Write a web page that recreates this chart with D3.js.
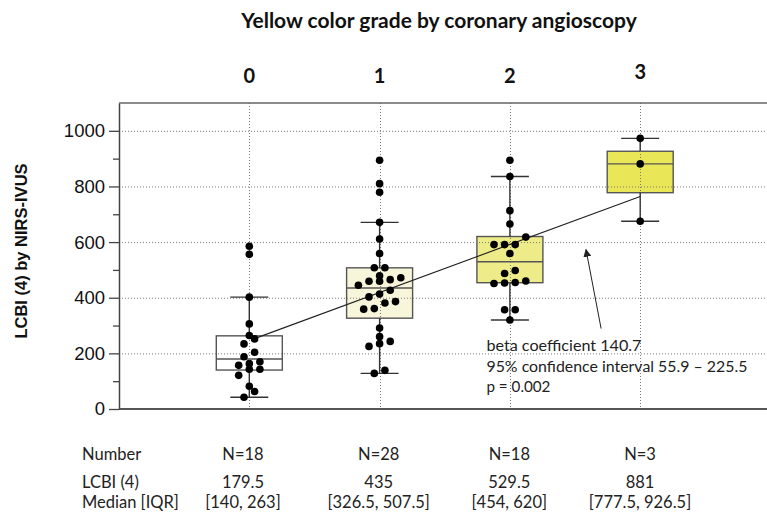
<!DOCTYPE html>
<html>
<head>
<meta charset="utf-8">
<script src="https://cdn.jsdelivr.net/npm/d3@7"></script>
<style>
  html, body { margin: 0; padding: 0; background: #fff; }
  svg { display: block; }
</style>
</head>
<body>
<svg id="chart" width="767" height="515"></svg>
<script>
// ---------------- DATA ----------------
const chartTitle = "Yellow color grade by coronary angioscopy";
const yAxisTitle = "LCBI (4) by NIRS-IVUS";
const categories = ["0", "1", "2", "3"];
const catIndex = [0, 1, 2, 3];
const yTicks = [0, 200, 400, 600, 800, 1000];
const yMinorTicks = [100, 300, 500, 700, 900];

const medians = [179.5, 435, 529.5, 881];
const q1 = [140, 326.5, 454, 777.5];
const q3 = [263, 507.5, 620, 926.5];
const whiskerLow = [42, 128, 320, 675];
const whiskerHigh = [402, 671, 836, 973];

const points0 = [585, 556, 402, 306, 264, 252, 234, 204, 188, 170, 163, 157, 143, 143, 121, 82, 63, 42];
const points1 = [894, 810, 779, 671, 611, 559, 508, 508, 479, 472, 465, 459, 459, 445, 427, 413, 403, 386, 381, 361, 359, 291, 260, 243, 235, 225, 139, 128];
const points2 = [894, 836, 713, 665, 618, 591, 591, 591, 559, 498, 487, 460, 455, 453, 451, 357, 357, 320];
const points3 = [973, 881, 675];
const allPoints = [points0, points1, points2, points3];

const boxFills = ["#ffffff", "#f7f6da", "#eeec88", "#e9e758"];

// regression line (category index, value)
const regX = [0.04, 3];
const regY = [253, 764];

// annotation arrow (category index, value)
const arrowFromX = 2.70, arrowFromY = 289;
const arrowToX = 2.584, arrowToY = 573;
const annotationLines = ["beta coefficient 140.7", "95% confidence interval 55.9 \u2013 225.5", "p = 0.002"];

// table below the chart
const tableRowLabels = ["Number", "LCBI (4)", "Median [IQR]"];
const nLabels = ["N=18", "N=28", "N=18", "N=3"];
const medianLabels = ["179.5", "435", "529.5", "881"];
const iqrLabels = ["[140, 263]", "[326.5, 507.5]", "[454, 620]", "[777.5, 926.5]"];

// ---------------- CHART ----------------
const svg = d3.select("#chart");
const W = 767;
const plotLeft = 119, plotTop = 103, plotBottom = 409;

const x = d3.scaleLinear().domain([-1, 4]).range([plotLeft, 770.5]);
const y = d3.scaleLinear().domain([0, 1100]).range([plotBottom, plotTop]);

const calibri = "Lato, 'Open Sans', sans-serif";
const arial = "'Liberation Sans', Arial, sans-serif";

// title
svg.append("text")
  .attr("x", 439).attr("y", 28)
  .attr("text-anchor", "middle")
  .attr("font-family", calibri).attr("font-weight", 700)
  .attr("font-size", 21).attr("fill", "#111")
  .text(chartTitle);

// category labels on top
svg.selectAll("text.cat").data(catIndex).enter().append("text")
  .attr("class", "cat")
  .attr("x", d => x(d))
  .attr("y", d => d === 3 ? 79 : 83)
  .attr("text-anchor", "middle")
  .attr("font-family", calibri).attr("font-weight", 700)
  .attr("font-size", 20).attr("fill", "#111")
  .text(d => categories[d]);

// boxes
const boxHalf = 33, capHalf = 19;
const g = svg.append("g");
g.selectAll("rect.box").data(catIndex).enter().append("rect")
  .attr("x", d => x(d) - boxHalf)
  .attr("y", d => y(q3[d]))
  .attr("width", boxHalf * 2)
  .attr("height", d => y(q1[d]) - y(q3[d]))
  .attr("fill", d => boxFills[d])
  .attr("stroke", "#555").attr("stroke-width", 1.4);

// grid (dotted)
const grid = svg.append("g").attr("stroke", "#7a7a7a").attr("stroke-width", 1).attr("stroke-dasharray", "1,2");
grid.selectAll("line.h").data(yTicks.filter(v => v > 0)).enter().append("line")
  .attr("x1", plotLeft).attr("x2", W)
  .attr("y1", d => y(d) + 0.5).attr("y2", d => y(d) + 0.5);
grid.selectAll("line.v").data(catIndex).enter().append("line")
  .attr("x1", d => Math.round(x(d)) + 0.5).attr("x2", d => Math.round(x(d)) + 0.5)
  .attr("y1", plotTop).attr("y2", plotBottom);

// medians
g.selectAll("line.med").data(catIndex).enter().append("line")
  .attr("x1", d => x(d) - boxHalf).attr("x2", d => x(d) + boxHalf)
  .attr("y1", d => y(medians[d])).attr("y2", d => y(medians[d]))
  .attr("stroke", "#555").attr("stroke-width", 1.4);

// whiskers
const wk = svg.append("g").attr("stroke", "#333").attr("stroke-width", 1.4);
wk.selectAll("line.wu").data(catIndex).enter().append("line")
  .attr("x1", d => x(d)).attr("x2", d => x(d))
  .attr("y1", d => y(q3[d])).attr("y2", d => y(whiskerHigh[d]));
wk.selectAll("line.wl").data(catIndex).enter().append("line")
  .attr("x1", d => x(d)).attr("x2", d => x(d))
  .attr("y1", d => y(q1[d])).attr("y2", d => y(whiskerLow[d]));
wk.selectAll("line.cu").data(catIndex).enter().append("line")
  .attr("x1", d => x(d) - capHalf).attr("x2", d => x(d) + capHalf)
  .attr("y1", d => y(whiskerHigh[d])).attr("y2", d => y(whiskerHigh[d]));
wk.selectAll("line.cl").data(catIndex).enter().append("line")
  .attr("x1", d => x(d) - capHalf).attr("x2", d => x(d) + capHalf)
  .attr("y1", d => y(whiskerLow[d])).attr("y2", d => y(whiskerLow[d]));

// regression line
svg.append("line")
  .attr("x1", x(regX[0])).attr("y1", y(regY[0]))
  .attr("x2", x(regX[1])).attr("y2", y(regY[1]))
  .attr("stroke", "#222").attr("stroke-width", 1.1);

// dots: rows of near-equal values spread horizontally
const rowGap = 8, spacing = 10.6, r = 3.8;
function layout(vals) {
  const s = vals.map(v => ({ v, py: y(v) })).sort((a, b) => a.v - b.v);
  const rows = []; let cur = null;
  s.forEach(p => {
    if (!cur || cur[0].py - p.py > rowGap) { cur = [p]; rows.push(cur); }
    else cur.push(p);
  });
  rows.forEach(row => row.forEach((p, i) => { p.dx = (i - (row.length - 1) / 2) * spacing; }));
  return s;
}
const dots = svg.append("g");
allPoints.forEach((vals, ci) => {
  dots.selectAll(null).data(layout(vals)).enter().append("circle")
    .attr("cx", d => x(ci) + d.dx)
    .attr("cy", d => y(d.v))
    .attr("r", r)
    .attr("fill", "#000");
});

// axes frame
svg.append("line").attr("x1", plotLeft).attr("x2", W).attr("y1", plotTop).attr("y2", plotTop)
  .attr("stroke", "#666").attr("stroke-width", 1.5);
svg.append("line").attr("x1", plotLeft).attr("x2", W).attr("y1", plotBottom).attr("y2", plotBottom)
  .attr("stroke", "#555").attr("stroke-width", 2.2);

const yAxis = d3.axisLeft(y).tickValues(yTicks).tickSize(10).tickSizeOuter(0).tickPadding(4).tickFormat(d3.format("d"));
const ya = svg.append("g").attr("transform", `translate(${plotLeft},0)`).call(yAxis);
ya.select(".domain").attr("stroke", "#444").attr("stroke-width", 1.5);
ya.selectAll(".tick line").attr("stroke", "#444").attr("stroke-width", 1.3);
ya.selectAll(".tick text").attr("font-family", arial).attr("font-size", 18.5).attr("fill", "#111");

const yMinor = d3.axisLeft(y).tickValues(yMinorTicks).tickSize(6).tickSizeOuter(0).tickFormat("");
const ym = svg.append("g").attr("transform", `translate(${plotLeft},0)`).call(yMinor);
ym.select(".domain").remove();
ym.selectAll(".tick line").attr("stroke", "#444").attr("stroke-width", 1.3);

// y-axis title
svg.append("text")
  .attr("transform", "translate(27,251) rotate(-90)")
  .attr("text-anchor", "middle")
  .attr("font-family", arial).attr("font-weight", 700)
  .attr("font-size", 16.5).attr("fill", "#111")
  .text(yAxisTitle);

// arrow
svg.append("defs").append("marker")
  .attr("id", "ah").attr("viewBox", "0 0 10 10")
  .attr("refX", 9).attr("refY", 5)
  .attr("markerWidth", 8).attr("markerHeight", 8)
  .attr("markerUnits", "userSpaceOnUse")
  .attr("orient", "auto")
  .append("path").attr("d", "M0,0 L10,5 L0,10 Z").attr("fill", "#222");
svg.append("line")
  .attr("x1", x(arrowFromX)).attr("y1", y(arrowFromY))
  .attr("x2", x(arrowToX)).attr("y2", y(arrowToY))
  .attr("stroke", "#222").attr("stroke-width", 1)
  .attr("marker-end", "url(#ah)");

// annotation text
const annX = x(1.82);
const annLens = [155, 261, 64];
annotationLines.forEach((t, i) => {
  svg.append("text")
    .attr("x", annX).attr("y", 351 + i * 20.7)
    .attr("font-family", calibri).attr("font-size", 15.5).attr("fill", "#222")
    .attr("textLength", annLens[i]).attr("lengthAdjust", "spacingAndGlyphs")
    .text(t);
});

// table
const tableCols = [243, 378.7, 509.3, 640];
const rowY = [460, 488, 508];
const tbl = svg.append("g").attr("font-family", calibri).attr("font-size", 16.5).attr("fill", "#222");
tableRowLabels.forEach((t, i) => {
  tbl.append("text").attr("x", 82).attr("y", rowY[i]).text(t);
});
[nLabels, medianLabels, iqrLabels].forEach((labels, ri) => {
  tbl.selectAll(null).data(labels).enter().append("text")
    .attr("x", (d, i) => tableCols[i]).attr("y", rowY[ri])
    .attr("text-anchor", "middle")
    .text(d => d);
});
</script>
</body>
</html>
